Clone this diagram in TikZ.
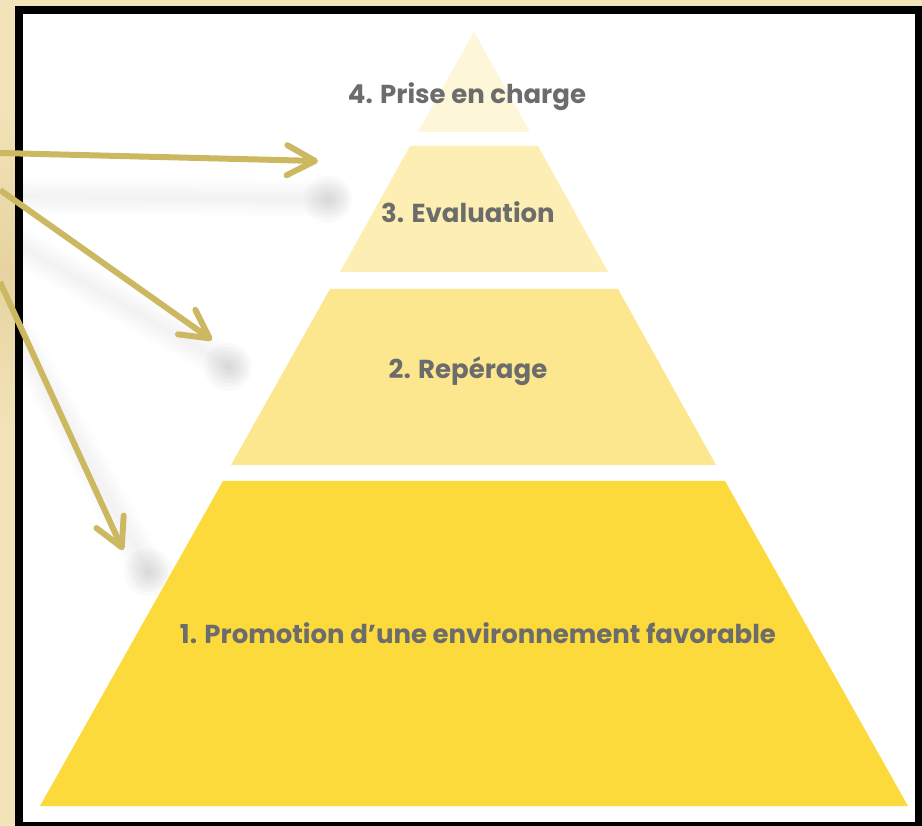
\documentclass[tikz,border=0pt]{standalone}
\usepackage{fontspec}
\newfontfamily\pyrfont{Poppins}
\usetikzlibrary{arrows.meta}
\definecolor{bgc}{HTML}{F2E3B8}
\definecolor{bgdark}{HTML}{E6D3A0}
\definecolor{tierA}{HTML}{FDDA3C}
\definecolor{tierB}{HTML}{FDE78E}
\definecolor{tierC}{HTML}{FDEFB4}
\definecolor{tierD}{HTML}{FEF6D9}
\definecolor{arrc}{HTML}{CDB862}
\definecolor{txtc}{HTML}{6C6C6C}
\definecolor{shadc}{HTML}{808080}
\begin{document}
\begin{tikzpicture}[x=1pt,y=-1pt,
  lab/.style={anchor=base, inner sep=0pt, text=txtc, font=\pyrfont\bfseries\fontsize{26}{26}\selectfont},
  ptr/.style={draw=arrc, line width=6pt, -{Straight Barb[length=28pt,width=30pt,round]}},
  shadowline/.style={draw=shadc, line cap=round, opacity=0.013}]
\useasboundingbox (0,0) rectangle (922,826);
% background and frame
\fill[bgc] (0,0) rectangle (922,826);
\shade[top color=bgc, bottom color=bgc, middle color=bgdark] (0,110) rectangle (15,430);
\fill[black] (15,6) rectangle (922,826);
\fill[white] (23,14) rectangle (915,822);
% shadows of the arrows
\begin{scope}
\clip (23,14) rectangle (915,822);
\foreach \w in {6,12,18,24,30,36} {
  \draw[shadowline, line width=\w pt] (10,196) -- (333,199);
  \draw[shadowline, line width=\w pt] (10,240) -- (232,367);
  \draw[shadowline, line width=\w pt] (15,330) -- (150,573);
}
\foreach \r in {4,8,12,16,20,24} {
  \fill[shadc, opacity=0.035] (328,199) circle (\r);
  \fill[shadc, opacity=0.035] (228,367) circle (\r);
  \fill[shadc, opacity=0.035] (148,572) circle (\r);
}
\end{scope}
% pyramid tiers
\fill[tierD] (474,32) -- (530,132) -- (418,132) -- cycle;
\fill[tierC] (410,146) -- (538,146) -- (608,272) -- (340,272) -- cycle;
\fill[tierB] (330,289) -- (618,289) -- (716,465) -- (231,465) -- cycle;
\fill[tierA] (223,481) -- (725,481) -- (908,806) -- (40,806) -- cycle;
% labels
\node[lab] (t4) at (467,104) {4. Prise en charge};
\node[lab] (t3) at (468,223) {3. Evaluation};
\node[lab] (t2) at (468,379) {2. Repérage};
\node[lab] (t1) at (478,643) {1. Promotion d’une environnement favorable};
% arrows
\coordinate (s1) at (0,153);
\coordinate (e1) at (318,161);
\coordinate (s2) at (0,190);
\coordinate (e2) at (212,340);
\coordinate (s3) at (0,282);
\coordinate (e3) at (123,550);
\draw[ptr] (s1) -- (e1);
\draw[ptr] (s2) -- (e2);
\draw[ptr] (s3) -- (e3);
\end{tikzpicture}
\end{document}
